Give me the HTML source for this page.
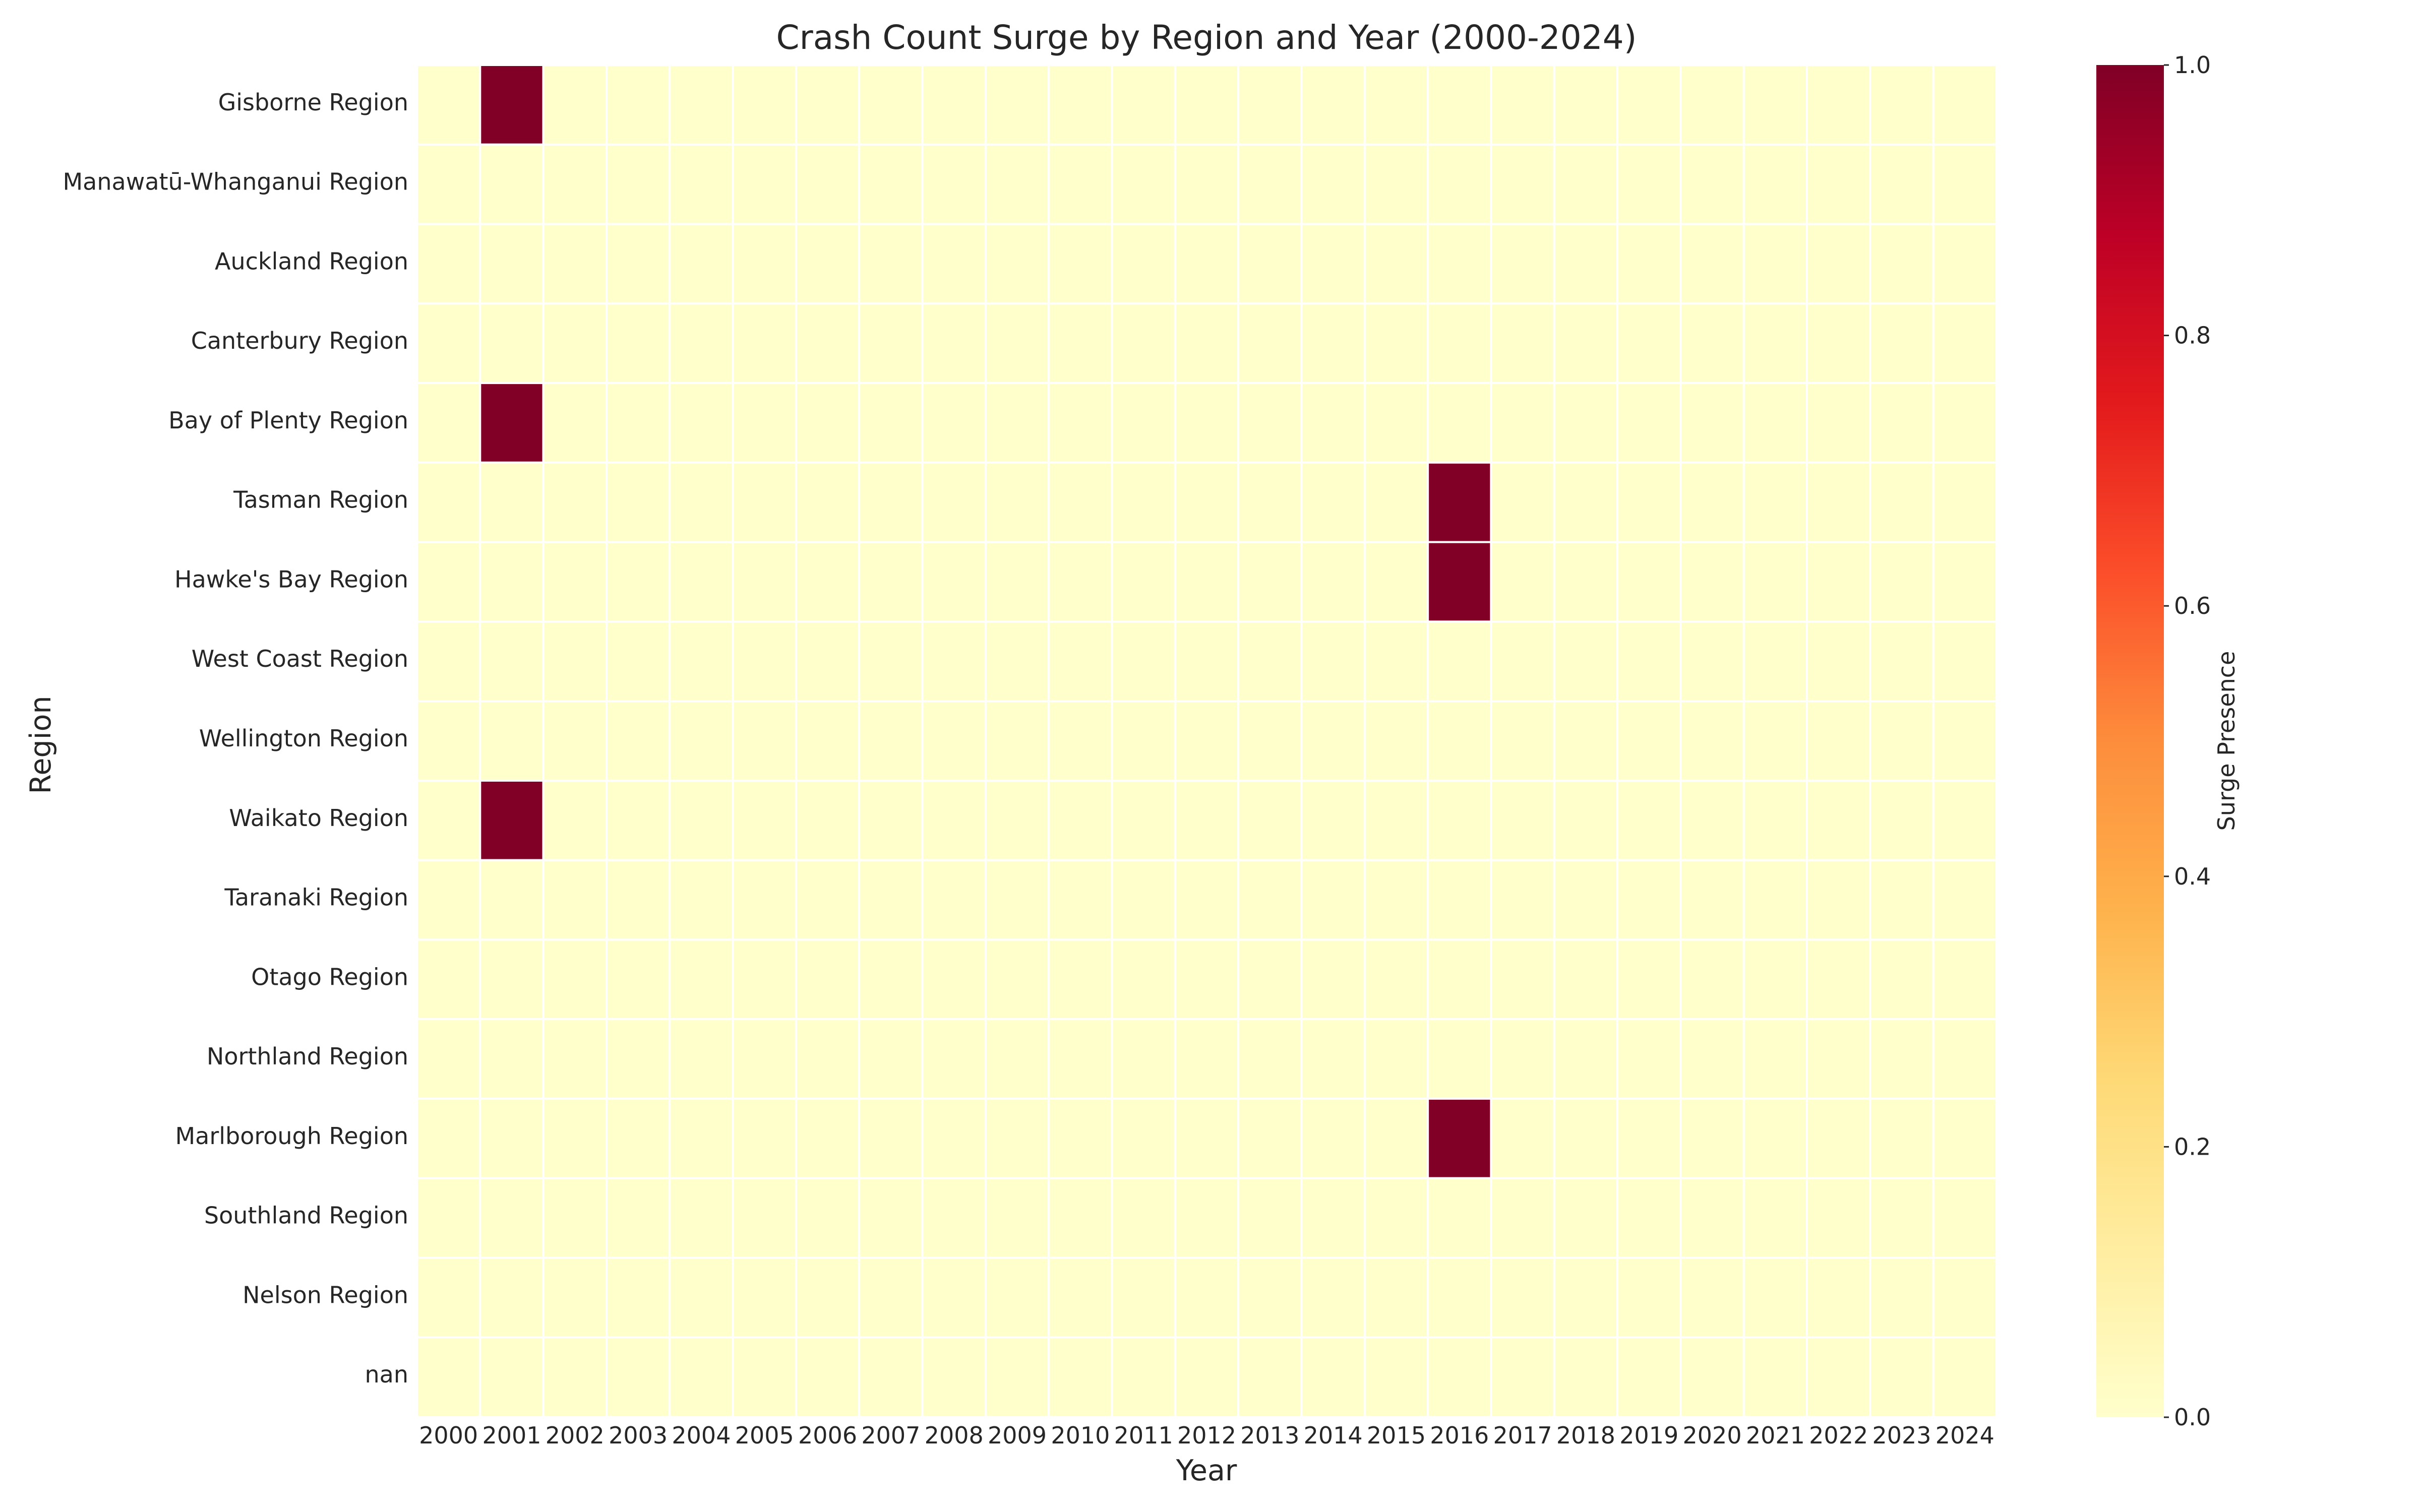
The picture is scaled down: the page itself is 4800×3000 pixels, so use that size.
<!DOCTYPE html>
<html><head><meta charset="utf-8">
<style>
html,body{margin:0;padding:0;background:#fff;}
svg{display:block;font-family:"DejaVu Sans","Liberation Sans",sans-serif;}
</style></head>
<body>
<svg id="chart" width="4800" height="3000" viewBox="0 0 4800 3000" xmlns="http://www.w3.org/2000/svg">
<defs>
<linearGradient id="ylorrd" x1="0" y1="1" x2="0" y2="0">
<stop offset="0" stop-color="#ffffcc"/><stop offset="0.125" stop-color="#ffeda0"/>
<stop offset="0.25" stop-color="#fed976"/><stop offset="0.375" stop-color="#feb24c"/>
<stop offset="0.5" stop-color="#fd8d3c"/><stop offset="0.625" stop-color="#fc4e2a"/>
<stop offset="0.75" stop-color="#e31a1c"/><stop offset="0.875" stop-color="#bd0026"/>
<stop offset="1" stop-color="#800026"/>
</linearGradient>
</defs>
<text x="2393" y="97" font-size="66" text-anchor="middle" fill="#262626">Crash Count Surge by Region and Year (2000-2024)</text>
<text x="2393" y="2937" font-size="57" text-anchor="middle" fill="#262626">Year</text>
<text x="0" y="0" font-size="57" text-anchor="middle" fill="#262626" transform="translate(100,1478) rotate(-90)">Region</text>
<text x="0" y="0" font-size="46" text-anchor="middle" fill="#262626" transform="translate(4432,1470) rotate(-90)">Surge Presence</text>
<g id="cells"></g>
<g id="xticks"></g>
<g id="yticks"></g>
<rect x="4158" y="129" width="134" height="2683" fill="url(#ylorrd)"/>
<g id="cticks"></g>
</svg>
<script>
const years = [2000,2001,2002,2003,2004,2005,2006,2007,2008,2009,2010,2011,2012,2013,2014,2015,2016,2017,2018,2019,2020,2021,2022,2023,2024];
const regions = ["Gisborne Region","Manawatū-Whanganui Region","Auckland Region","Canterbury Region","Bay of Plenty Region","Tasman Region","Hawke's Bay Region","West Coast Region","Wellington Region","Waikato Region","Taranaki Region","Otago Region","Northland Region","Marlborough Region","Southland Region","Nelson Region","nan"];
const surgeRegions = ["Gisborne Region","Bay of Plenty Region","Waikato Region","Tasman Region","Hawke's Bay Region","Marlborough Region"];
const surgeYears = [2001,2001,2001,2016,2016,2016];
const cbTicks = [0.0,0.2,0.4,0.6,0.8,1.0];

const NS="http://www.w3.org/2000/svg";
const X0=827,X1=3960,Y0=129,Y1=2811,CB0=129,CB1=2812;
const cw=(X1-X0)/years.length, ch=(Y1-Y0)/regions.length;
const xPos=i=>X0+i*cw, yPos=j=>Y0+j*ch;
const cbY=v=>CB1-v*(CB1-CB0);
function val(r,y){for(let k=0;k<surgeRegions.length;k++){if(surgeRegions[k]===r&&surgeYears[k]===y)return 1;}return 0;}
function color(v){return v>=0.5?"#800026":"#ffffcc";}
function mk(t,a){const e=document.createElementNS(NS,t);for(const k in a)e.setAttribute(k,a[k]);return e;}
const cells=document.getElementById('cells');
regions.forEach((r,j)=>{years.forEach((y,i)=>{
  const v=val(r,y);
  const c=mk('rect',{x:xPos(i),y:yPos(j),width:cw,height:ch,fill:color(v),stroke:'#fff','stroke-width':4});
  
  
  cells.appendChild(c);
});});
const xt=document.getElementById('xticks');
years.forEach((y,i)=>{
  const t=mk('text',{x:xPos(i)+cw/2,y:2864,'font-size':46,'text-anchor':'middle',fill:'#262626'});
  t.textContent=y;
  
  
  xt.appendChild(t);
});
const yt=document.getElementById('yticks');
regions.forEach((r,j)=>{
  const t=mk('text',{x:810,y:yPos(j)+ch/2+11,'font-size':46,'text-anchor':'end',fill:'#262626'});
  t.textContent=r;
  
  
  yt.appendChild(t);
});
const ct=document.getElementById('cticks');
cbTicks.forEach(v=>{
  const l=mk('line',{x1:4292,x2:4302,y1:cbY(v),y2:cbY(v),stroke:'#262626','stroke-width':3});
  
  
  ct.appendChild(l);
  const t=mk('text',{x:4312,y:cbY(v)+16,'font-size':46,fill:'#262626'});
  t.textContent=v.toFixed(1);
  
  
  ct.appendChild(t);
});
</script>
</body></html>
